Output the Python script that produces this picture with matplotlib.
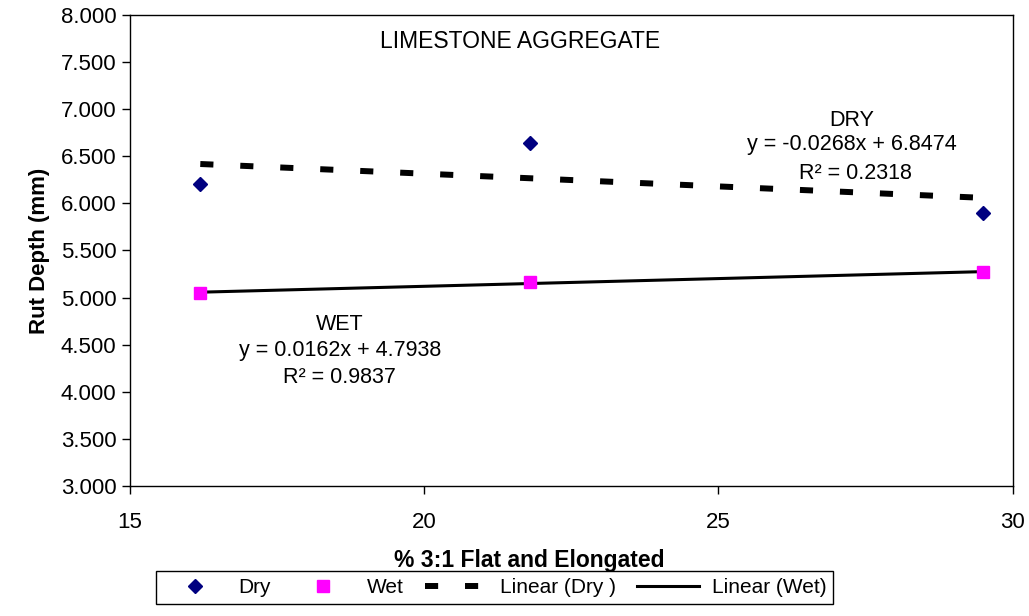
import numpy as np
import matplotlib
matplotlib.use('Agg')
import matplotlib.pyplot as plt

# limestone aggregate rut depth data
flat_elong = [16.2, 21.8, 29.5]
dry_rut = [6.20, 6.64, 5.90]
wet_rut = [5.05, 5.16, 5.27]

plt.rcParams['font.family'] = ['Liberation Sans', 'DejaVu Sans']

fig = plt.figure(figsize=(10.29, 6.16), dpi=100)
ax = fig.add_axes([0.126, 0.211, 0.858, 0.765])

# linear trend lines
xs = np.array([min(flat_elong), max(flat_elong)])
pd_ = np.polyfit(flat_elong, dry_rut, 1)
pw = np.polyfit(flat_elong, wet_rut, 1)

ax.plot(flat_elong, dry_rut, 'D', color='#000080', ms=7.5, ls='none', label='Dry', zorder=3)
ax.plot(flat_elong, wet_rut, 's', color='#ff00ff', ms=9, ls='none', label='Wet', zorder=3)
ax.plot(xs, np.polyval(pd_, xs), color='black', lw=4.3, dashes=(2.2, 4.5),
        dash_capstyle='butt', label='Linear (Dry )')
ax.plot(xs, np.polyval(pw, xs), color='black', lw=2.2, label='Linear (Wet)')

ax.set_xlim(15, 30)
ax.set_ylim(3, 8)
ax.set_xticks([15, 20, 25, 30])
ax.set_yticks(np.arange(3, 8.01, 0.5))
ax.yaxis.set_major_formatter(matplotlib.ticker.FormatStrFormatter('%.3f'))
ax.tick_params(direction='out', length=6, width=1, labelsize=16)
ax.tick_params(axis='x', pad=13)
ax.set_xlabel('% 3:1 Flat and Elongated', fontsize=16.5, fontweight='bold')
ax.xaxis.set_label_coords(0.453, -0.133)
ax.set_ylabel('Rut Depth (mm)', fontsize=16, fontweight='bold', labelpad=8)
for s in ax.spines.values():
    s.set_linewidth(1)

fs = 15.5
ax.text(0.442, 0.943, 'LIMESTONE AGGREGATE', transform=ax.transAxes, ha='center', va='center', fontsize=16.5)
ax.text(0.818, 0.775, 'DRY', transform=ax.transAxes, ha='center', va='center', fontsize=fs)
ax.text(0.818, 0.724, 'y = -0.0268x + 6.8474', transform=ax.transAxes, ha='center', va='center', fontsize=fs)
ax.text(0.822, 0.664, 'R² = 0.2318', transform=ax.transAxes, ha='center', va='center', fontsize=fs)
ax.text(0.238, 0.342, 'WET', transform=ax.transAxes, ha='center', va='center', fontsize=fs)
ax.text(0.238, 0.287, 'y = 0.0162x + 4.7938', transform=ax.transAxes, ha='center', va='center', fontsize=fs)
ax.text(0.238, 0.231, 'R² = 0.9837', transform=ax.transAxes, ha='center', va='center', fontsize=fs)

leg = fig.legend(loc='lower center', bbox_to_anchor=(0.481, 0.002), ncol=4, fontsize=15,
                 frameon=True, fancybox=False, edgecolor='black', framealpha=1,
                 handlelength=3.0, handletextpad=0.6, columnspacing=1.0, borderpad=0.35)
leg.get_frame().set_linewidth(1)

fig.savefig('out.png', dpi=100)
